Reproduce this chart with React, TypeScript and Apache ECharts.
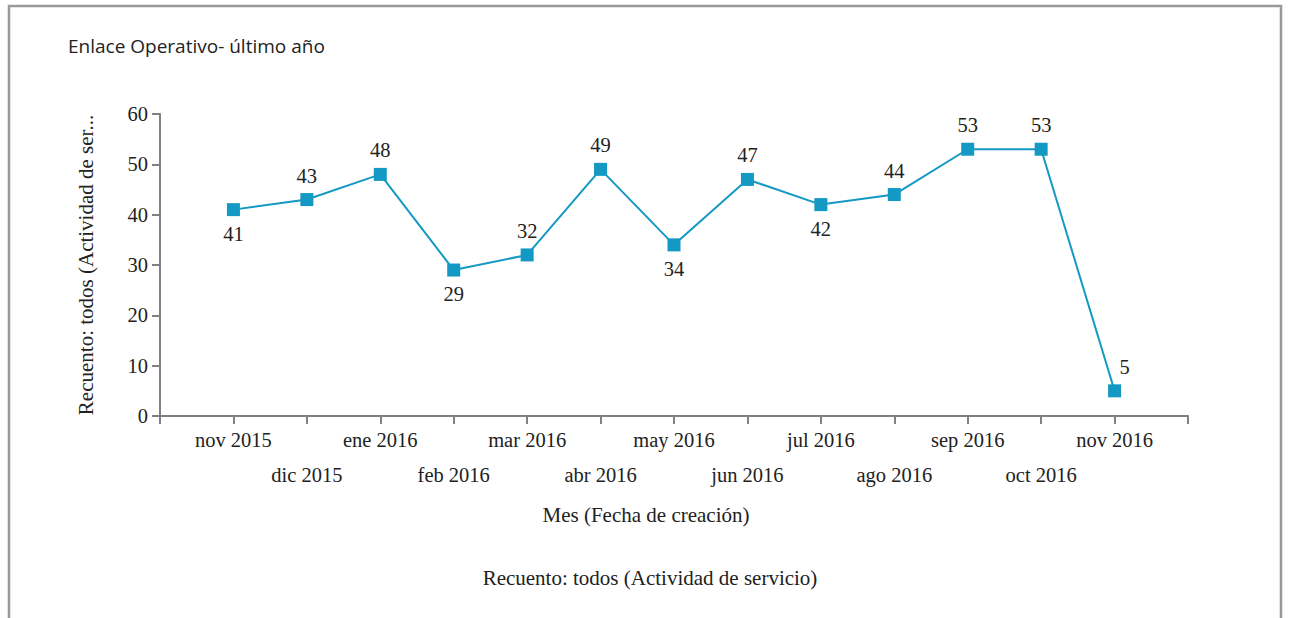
import React, { useEffect, useRef } from "react";
import * as echarts from "echarts";

const months = [
  "nov 2015", "dic 2015", "ene 2016", "feb 2016", "mar 2016", "abr 2016",
  "may 2016", "jun 2016", "jul 2016", "ago 2016", "sep 2016", "oct 2016", "nov 2016",
];
const counts = [41, 43, 48, 29, 32, 49, 34, 47, 42, 44, 53, 53, 5];
const yTicks = [0, 10, 20, 30, 40, 50, 60];

const titleText = "Enlace Operativo- último año";
const yName = "Recuento: todos (Actividad de ser...";
const xName = "Mes (Fecha de creación)";
const footer = "Recuento: todos (Actividad de servicio)";

const SERIF = "'Liberation Serif', serif";
const SANS = "'Open Sans', sans-serif";
const LINE = "#1399c3";
const FS = 20.5;

export default function App() {
  const ref = useRef<HTMLDivElement>(null);
  useEffect(() => {
    document.body.style.margin = "0";
    const chart = echarts.init(ref.current!, null, { renderer: "svg" });
    const axisData = ["", ...months, ""];
    const belowIdx = new Set([0, 3, 6, 8]);
    const seriesData: any[] = ["-"];
    counts.forEach((v, i) => {
      const last = i === counts.length - 1;
      seriesData.push({
        value: v,
        label: {
          position: belowIdx.has(i) ? "bottom" : "top",
          offset: last ? [10, 0] : [0, 0],
        },
      });
    });
    seriesData.push("-");
    chart.setOption({
      animation: false,
      backgroundColor: "#fff",
      title: {
        text: titleText,
        left: 63,
        top: 31,
        textStyle: { fontFamily: SANS, fontSize: 19, fontWeight: "normal", color: "#222" },
      },
      grid: { left: 160, right: 101, top: 114, bottom: 202, containLabel: false },
      xAxis: {
        type: "category",
        data: axisData,
        boundaryGap: false,
        axisLine: { lineStyle: { color: "#808080", width: 2 } },
        axisTick: { show: true, length: 8, lineStyle: { color: "#808080", width: 2 }, interval: 0 },
        axisLabel: {
          interval: 0,
          fontFamily: SERIF,
          fontSize: FS,
          color: "#222",
          lineHeight: 35,
          margin: 6,
          formatter: (v: string, i: number) => (i % 2 === 0 ? "\n" + v : v),
        },
        splitLine: { show: false },
      },
      yAxis: {
        type: "value",
        min: 0,
        max: 60,
        interval: 10,
        name: yName,
        nameLocation: "middle",
        nameGap: 64,
        nameTextStyle: { fontFamily: SERIF, fontSize: 21, color: "#222" },
        axisLine: { show: true, lineStyle: { color: "#808080", width: 2 } },
        axisTick: { show: true, length: 8, lineStyle: { color: "#808080", width: 2 } },
        axisLabel: {
          fontFamily: SERIF,
          fontSize: FS,
          color: "#222",
          margin: 12,
          formatter: (v: number) => (yTicks.includes(v) ? String(v) : ""),
        },
        splitLine: { show: false },
      },
      graphic: [
        {
          type: "polyline",
          shape: { points: [[9, 640], [9, 6], [1281, 6], [1281, 640]] },
          style: { stroke: "#999", lineWidth: 2.5, fill: "none" },
          silent: true,
        },
        {
          type: "text",
          x: 646,
          y: 515,
          style: {
            text: xName,
            fontFamily: SERIF,
            fontSize: 21,
            fill: "#222",
            textAlign: "center",
            textVerticalAlign: "middle",
          },
        },
        {
          type: "text",
          x: 650,
          y: 578,
          style: {
            text: footer,
            fontFamily: SERIF,
            fontSize: 21,
            fill: "#222",
            textAlign: "center",
            textVerticalAlign: "middle",
          },
        },
      ],
      series: [
        {
          type: "line",
          data: seriesData,
          symbol: "rect",
          symbolSize: 13,
          lineStyle: { color: LINE, width: 2 },
          itemStyle: { color: LINE },
          label: {
            show: true,
            distance: 7,
            fontFamily: SERIF,
            fontSize: FS,
            color: "#222",
          },
        },
      ],
    });
    return () => chart.dispose();
  }, []);
  return <div ref={ref} style={{ width: 1289, height: 618 }} />;
}
